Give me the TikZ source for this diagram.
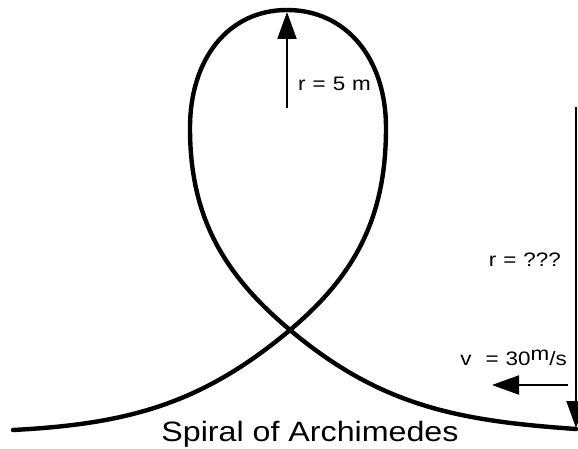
\documentclass[tikz,border=0pt]{standalone}
\usepackage{fontspec}
\setmainfont{Liberation Sans}
\newfontfamily\widesans[FakeStretch=1.15]{Liberation Sans}
\newfontfamily\widetitle[FakeStretch=1.15]{Liberation Sans}
\usetikzlibrary{arrows.meta}
\newcommand\quantityfont{\widesans\fontsize{19.5}{23}\selectfont\spaceskip=7pt\relax}
\newcommand\captionfont{\widetitle\fontsize{28}{33}\selectfont}

\begin{document}
\begin{tikzpicture}[
    x=1pt, y=1pt,
    spiral/.style={line width=4.4pt, line cap=round},
    vector/.style={line width=2pt, -{Triangle[length=27pt, width=19pt]}},
    quantity/.style={font=\quantityfont, inner sep=0pt},
    caption/.style={font=\captionfont, inner sep=0pt}
]
\useasboundingbox (0,0) rectangle (578,448);

% Points of the spiral
\coordinate (start) at (13,18);
\coordinate (cross) at (290,118);
\coordinate (right) at (386,320);
\coordinate (top) at (287,438);
\coordinate (left) at (190,320);
\coordinate (end) at (576,19);

% Spiral
\draw[spiral] (start) to[out=3, in=220] (cross)
    to[out=40, in=270] (right)
    .. controls +(0,70) and +(59,0) .. (top)
    .. controls +(-58,0) and +(0,70) .. (left)
    to[out=270, in=140] (cross)
    to[out=-40, in=176] (end);

% Radius at the top
\coordinate (r5foot) at (287,340);
\coordinate (r5tip) at (287,436);
\draw[vector] (r5foot) -- (r5tip);
\node[quantity, anchor=base west] (r5) at (298,357) {r = 5 m};

% Radius at the bottom
\coordinate (rqfoot) at (576,341);
\coordinate (rqtip) at (576,20);
\draw[vector] (rqfoot) -- (rqtip);
\node[quantity, anchor=base east] (rq) at (561,181.5) {r = ???};

% Velocity
\coordinate (vfoot) at (568,63);
\coordinate (vtip) at (492,63);
\draw[vector] (vfoot) -- (vtip);
\node[quantity, anchor=base east] (v) at (567,83) {v\ \ = 30\raisebox{5pt}{m}/s};

% Title
\node[caption, anchor=base] (title) at (310,6.3) {Spiral of Archimedes};

\end{tikzpicture}
\end{document}
